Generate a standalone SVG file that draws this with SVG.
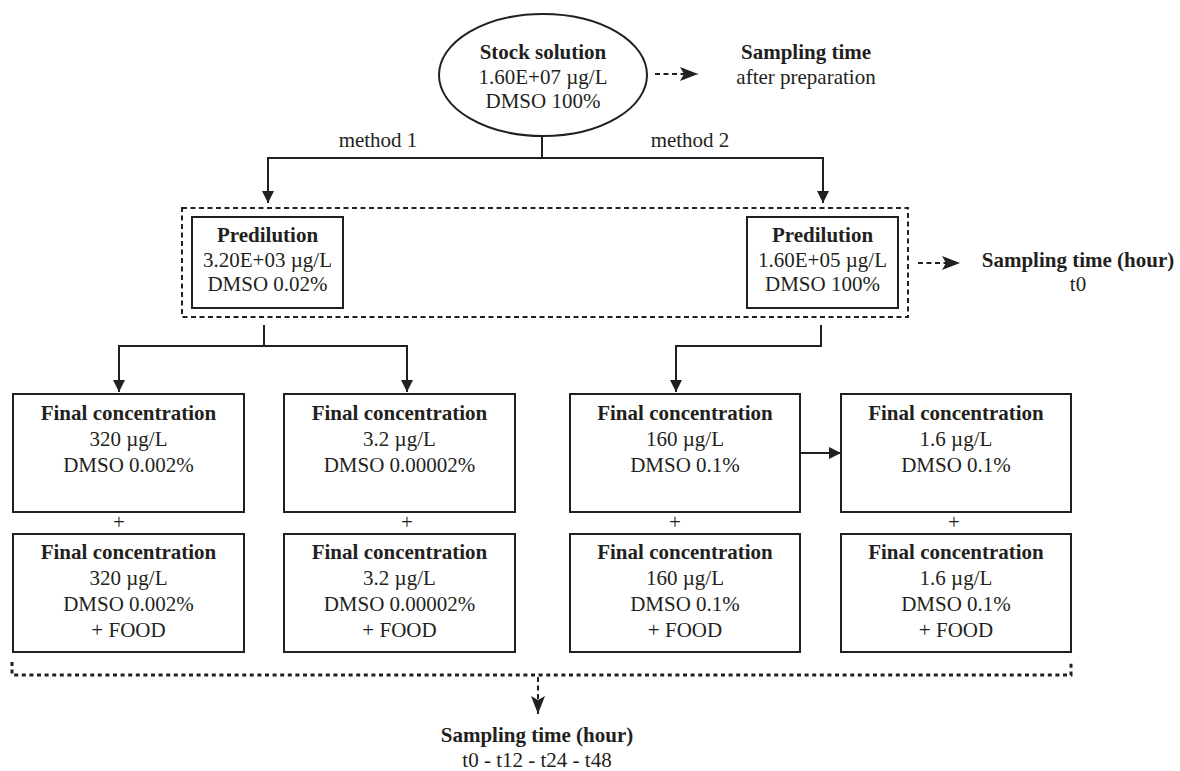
<svg xmlns="http://www.w3.org/2000/svg" width="1180" height="771" viewBox="0 0 1180 771">
<style>
text{font-family:"Liberation Serif","Times New Roman",serif;font-size:21px;fill:#231f20;text-anchor:middle}
.b{font-weight:bold}
.box{fill:#fff;stroke:#231f20;stroke-width:2}
.ln{fill:none;stroke:#231f20;stroke-width:2}
.dl{fill:none;stroke:#231f20;stroke-width:2;stroke-dasharray:5 3.5}
.dd{fill:none;stroke:#231f20;stroke-width:3;stroke-dasharray:4 3.6}
</style>
<defs>
<marker id="ah" markerWidth="12" markerHeight="12" refX="12" refY="6" orient="auto" markerUnits="userSpaceOnUse"><path d="M0,0 L12,6 L0,12 Z" fill="#231f20"/></marker>
<marker id="ahl" markerWidth="18" markerHeight="14" refX="18" refY="7" orient="auto" markerUnits="userSpaceOnUse"><path d="M0,0 L18,7 L0,14 L4,7 Z" fill="#231f20"/></marker>
</defs>

<g id="connectors">
<path class="ln" d="M542,136 V158"/>
<path class="ln" d="M542,158 H268 V203" marker-end="url(#ah)"/>
<path class="ln" d="M542,158 H823 V203" marker-end="url(#ah)"/>
<path class="dl" d="M655,74 H698" marker-end="url(#ahl)"/>
<rect class="dl" x="182" y="208" width="726" height="109"/>
<path class="dl" d="M918,263 H960" marker-end="url(#ahl)"/>
<path class="ln" d="M264,325 V346"/>
<path class="ln" d="M264,346 H119 V392" marker-end="url(#ah)"/>
<path class="ln" d="M264,346 H407 V392" marker-end="url(#ah)"/>
<path class="ln" d="M821,325 V346 H676 V392" marker-end="url(#ah)"/>
<path class="ln" d="M800,453 H841" marker-end="url(#ah)"/>
<path class="dd" d="M12,662 V675 H1071 V662"/>
<path class="dl" d="M538,677 V714" marker-end="url(#ahl)"/>
<text x="378" y="147">method 1</text>
<text x="690" y="147">method 2</text>
<text x="119" y="529">+</text>
<text x="407" y="529">+</text>
<text x="675" y="529">+</text>
<text x="954" y="529">+</text>
</g>

<g id="stock">
<ellipse class="box" cx="543" cy="75" rx="104" ry="61"/>
<text class="b" x="543" y="59">Stock solution</text>
<text x="543" y="84">1.60E+07 µg/L</text>
<text x="543" y="108">DMSO 100%</text>
</g>

<g id="sampling-prep">
<text class="b" x="806" y="59">Sampling time</text>
<text x="806" y="84">after preparation</text>
</g>

<g id="predilution-1">
<rect class="box" x="192" y="217" width="151" height="91"/>
<text class="b" x="267.5" y="242">Predilution</text>
<text x="267.5" y="267">3.20E+03 µg/L</text>
<text x="267.5" y="291">DMSO 0.02%</text>
</g>

<g id="predilution-2">
<rect class="box" x="747" y="217" width="151" height="91"/>
<text class="b" x="822.5" y="242">Predilution</text>
<text x="822.5" y="267">1.60E+05 µg/L</text>
<text x="822.5" y="291">DMSO 100%</text>
</g>

<g id="sampling-t0">
<text class="b" x="1078" y="267">Sampling time (hour)</text>
<text x="1078" y="291">t0</text>
</g>

<g id="final-1">
<rect class="box" x="13" y="394" width="231" height="118"/>
<text class="b" x="128.5" y="420">Final concentration</text>
<text x="128.5" y="446">320 µg/L</text>
<text x="128.5" y="472">DMSO 0.002%</text>
</g>
<g id="final-2">
<rect class="box" x="284" y="394" width="231" height="118"/>
<text class="b" x="399.5" y="420">Final concentration</text>
<text x="399.5" y="446">3.2 µg/L</text>
<text x="399.5" y="472">DMSO 0.00002%</text>
</g>
<g id="final-3">
<rect class="box" x="570" y="394" width="230" height="118"/>
<text class="b" x="685" y="420">Final concentration</text>
<text x="685" y="446">160 µg/L</text>
<text x="685" y="472">DMSO 0.1%</text>
</g>
<g id="final-4">
<rect class="box" x="841" y="394" width="230" height="118"/>
<text class="b" x="956" y="420">Final concentration</text>
<text x="956" y="446">1.6 µg/L</text>
<text x="956" y="472">DMSO 0.1%</text>
</g>

<g id="food-1">
<rect class="box" x="13" y="534" width="231" height="118"/>
<text class="b" x="128.5" y="559">Final concentration</text>
<text x="128.5" y="585">320 µg/L</text>
<text x="128.5" y="611">DMSO 0.002%</text>
<text x="128.5" y="637">+ FOOD</text>
</g>
<g id="food-2">
<rect class="box" x="284" y="534" width="231" height="118"/>
<text class="b" x="399.5" y="559">Final concentration</text>
<text x="399.5" y="585">3.2 µg/L</text>
<text x="399.5" y="611">DMSO 0.00002%</text>
<text x="399.5" y="637">+ FOOD</text>
</g>
<g id="food-3">
<rect class="box" x="570" y="534" width="230" height="118"/>
<text class="b" x="685" y="559">Final concentration</text>
<text x="685" y="585">160 µg/L</text>
<text x="685" y="611">DMSO 0.1%</text>
<text x="685" y="637">+ FOOD</text>
</g>
<g id="food-4">
<rect class="box" x="841" y="534" width="230" height="118"/>
<text class="b" x="956" y="559">Final concentration</text>
<text x="956" y="585">1.6 µg/L</text>
<text x="956" y="611">DMSO 0.1%</text>
<text x="956" y="637">+ FOOD</text>
</g>

<g id="sampling-final">
<text class="b" x="537" y="742">Sampling time (hour)</text>
<text x="537" y="767">t0 - t12 - t24 - t48</text>
</g>
</svg>
